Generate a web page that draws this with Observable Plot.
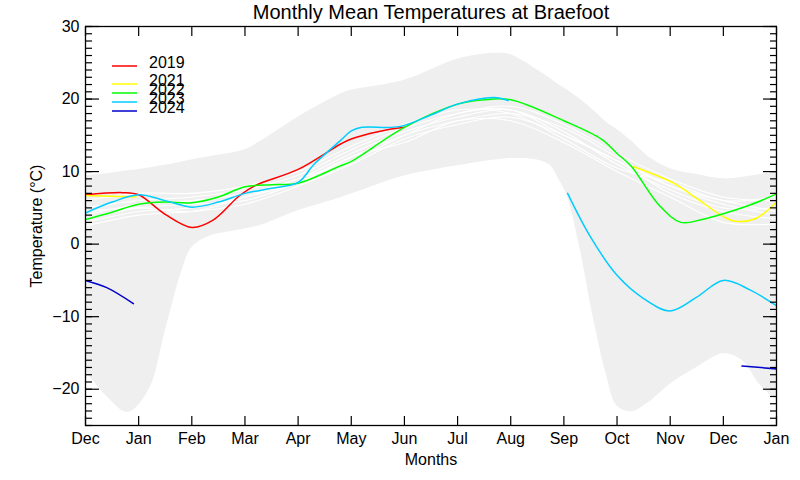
<!DOCTYPE html>
<html><head><meta charset="utf-8">
<script src="https://cdn.jsdelivr.net/npm/d3@7"></script>
<script src="https://cdn.jsdelivr.net/npm/@observablehq/plot@0.6"></script>
<style>
body{margin:0;background:#fff;}
#wrap{position:relative;width:800px;height:480px;font-family:"Liberation Sans",Arial,Helvetica,sans-serif;}
#wrap svg.legend{position:absolute;left:0;top:0;pointer-events:none;}
</style></head><body><div id="wrap"></div>
<script>
// ---------- data ----------
const title = "Monthly Mean Temperatures at Braefoot";
const xLabel = "Months";
const yLabel = "Temperature (°C)";
const monthLabels = ["Dec","Jan","Feb","Mar","Apr","May","Jun","Jul","Aug","Sep","Oct","Nov","Dec","Jan"];
const monthTicks = [0,1,2,3,4,5,6,7,8,9,10,11,12,13];
const yMajor = [-20,-10,0,10,20,30];

// grey envelope (min / max of record)
const bandX  = [0,0.4,0.8,1.2,1.5,1.8,2,2.3,3,3.3,4,4.8,5,6,7,7.7,8,8.5,8.75,8.9,9.07,9.3,9.55,9.8,10,10.27,10.6,11,11.5,12,12.35,12.7,13];
const bandHi = [9.4,9.7,10.1,10.5,10.9,11.3,11.6,12.0,13.0,14.2,17.5,20.7,21.2,22.6,25.5,26.3,26.1,24.0,22.8,22.0,21.2,20.0,18.5,16.8,15.8,14.2,12.0,10.4,9.6,9.0,9.2,9.6,9.9];
const bandLo = [-17.5,-21.0,-23.2,-20.0,-12.0,-4.0,-0.5,1.0,2.1,2.6,4.6,6.4,6.9,9.4,10.8,11.6,11.8,11.6,10.8,9.0,6.5,-0.5,-10.0,-18.0,-22.3,-23.1,-21.8,-19.3,-17.0,-15.1,-16.0,-19.5,-21.5];

// other years (white)
const wX = [0,1,2,3,4,5,6,7,8,9,10,11,12,13];
const wA = [3.0,4.5,5.0,6.5,8.5,12.0,15.0,17.0,18.0,16.0,12.0,8.0,6.0,4.5];
const wB = [4.0,5.5,6.0,7.0,9.0,12.5,15.5,17.5,18.5,15.5,11.0,7.5,5.0,5.0];
const wC = [5.0,6.0,6.5,7.5,9.5,13.0,16.0,18.0,19.0,16.5,12.5,9.0,6.5,6.0];
const wD = [2.5,4.0,4.5,5.5,8.0,11.0,14.5,16.5,17.5,15.0,11.5,7.0,4.5,3.5];
const wE = [6.0,7.0,7.0,8.0,10.0,13.5,16.5,18.5,18.0,14.5,10.5,8.5,6.0,6.5];
const wF = [3.5,5.0,5.5,6.0,8.5,12.0,14.0,17.0,17.0,14.0,10.0,6.5,3.0,2.8];
const wG = [4.5,5.0,4.5,6.5,9.0,11.5,15.0,18.0,18.5,15.0,11.5,8.0,5.5,4.0];

// highlighted years
const x2019 = [0,0.7,1,1.5,2,2.4,2.9,3.2,4,4.8,5,5.5,6];
const t2019 = [6.8,7.1,6.8,4.1,2.3,3.3,6.7,8.1,10.3,13.8,14.5,15.5,16.1];

const x2021a = [0,0.5,0.95];
const t2021a = [6.7,6.6,6.5];
const x2021b = [10.3,10.7,11.07,11.5,12,12.2,12.6,13];
const t2021b = [10.7,9.6,8.4,6.3,3.8,3.2,3.5,5.8];

const x2022 = [0,0.5,1,1.5,2,2.5,3,3.5,4,4.8,5,6,7,7.5,8,9,9.7,10,10.26,10.8,11.2,11.6,12,12.5,13];
const t2022 = [3.4,4.4,5.5,5.8,5.7,6.5,7.9,8.2,8.4,10.8,11.4,16.1,19.3,19.9,19.9,17.0,14.5,12.5,10.8,5.3,3.0,3.4,4.2,5.4,6.9];

const x2023a = [0,0.5,1,1.5,2,2.5,3,3.5,4,4.3,4.8,5,5.2,5.9,6.5,7,7.68,7.95];
const t2023a = [4.3,5.8,6.8,6.0,5.1,5.8,7.0,7.7,8.5,11.0,14.3,15.6,16.1,16.2,17.8,19.3,20.2,19.8];
const x2023b = [9.07,9.5,10,10.5,11,11.5,12,12.5,13];
const t2023b = [7.0,1.0,-4.3,-7.5,-9.2,-7.3,-5.0,-6.3,-8.5];

const x2024a = [0,0.4,0.9];
const t2024a = [-5.0,-6.0,-8.2];
const x2024b = [12.35,13];
const t2024b = [-16.8,-17.2];

const legendNames  = ["2019","2021","2022","2023","2024"];
const legendColors = ["#ff0000","#ffff00","#00ff00","#00ccff","#0000cc"];

// ---------- build ----------
const toRows = (xs, ys) => xs.map((x, i) => ({x, y: ys[i]}));
const bandRows = bandX.map((x, i) => ({x, lo: bandLo[i], hi: bandHi[i]}));
const whites = [wA, wB, wC, wD, wE, wF, wG];

const yearSegs = [
  [[x2019, t2019]],
  [[x2021a, t2021a], [x2021b, t2021b]],
  [[x2022, t2022]],
  [[x2023a, t2023a], [x2023b, t2023b]],
  [[x2024a, t2024a], [x2024b, t2024b]]
];

const lineMarks = [];
whites.forEach(w => lineMarks.push(Plot.line(toRows(wX, w), {x: "x", y: "y", stroke: "#ffffff", strokeWidth: 1.1, curve: "catmull-rom", clip: true})));
yearSegs.forEach((segs, k) => segs.forEach(([xs, ys]) =>
  lineMarks.push(Plot.line(toRows(xs, ys), {x: "x", y: "y", stroke: legendColors[k], strokeWidth: 1.5, curve: "catmull-rom", clip: true}))));

const minor = d3.range(-25, 31);
const chart = Plot.plot({
  width: 800, height: 480,
  marginLeft: 85, marginRight: 24, marginTop: 26, marginBottom: 55,
  x: {domain: [0, 13]},
  y: {domain: [-25, 30]},
  style: {fontFamily: '"Liberation Sans", Arial, Helvetica, sans-serif', fontSize: "16px", background: "white", color: "black", overflow: "visible"},
  marks: [
    Plot.areaY(bandRows, {x: "x", y1: "lo", y2: "hi", fill: "#efefef", curve: "catmull-rom", clip: true}),
    ...lineMarks,
    Plot.frame({stroke: "black", strokeWidth: 1.3}),
    Plot.axisY({anchor: "left", ticks: minor, tickSize: -7, text: null, label: null, strokeWidth: 1.2}),
    Plot.axisY({anchor: "left", ticks: yMajor, tickSize: -14, text: null, label: null, strokeWidth: 1.2}),
    Plot.axisY({anchor: "right", ticks: minor, tickSize: -7, text: null, label: null, strokeWidth: 1.2}),
    Plot.axisY({anchor: "right", ticks: yMajor, tickSize: -14, text: null, label: null, strokeWidth: 1.2}),
    Plot.axisY({anchor: "left", ticks: yMajor, tickSize: 0, tickPadding: 6, label: null, fontSize: 16}),
    Plot.axisX({anchor: "bottom", ticks: monthTicks, tickSize: -9, text: null, label: null, strokeWidth: 1.2}),
    Plot.axisX({anchor: "top", ticks: monthTicks, tickSize: -9, text: null, label: null, strokeWidth: 1.2}),
    Plot.axisX({anchor: "bottom", ticks: monthTicks, tickSize: 0, tickPadding: 7, label: null, fontSize: 16, tickFormat: i => monthLabels[i]}),
    Plot.text([title], {frameAnchor: "top", dy: -14, fontSize: 20, lineAnchor: "middle"}),
    Plot.text([xLabel], {frameAnchor: "bottom", dy: 34, fontSize: 16, lineAnchor: "middle"}),
    Plot.text([yLabel], {frameAnchor: "left", dx: -49, rotate: -90, fontSize: 16, textAnchor: "middle", lineAnchor: "middle"})
  ]
});
const wrap = document.getElementById("wrap");
wrap.appendChild(chart);

// legend overlay (IDL-style, uneven row spacing as in the original)
const legendRowY = [66, 84, 93, 102, 111];
const ns = "http://www.w3.org/2000/svg";
const lg = document.createElementNS(ns, "svg");
lg.setAttribute("class", "legend");
lg.setAttribute("width", 800); lg.setAttribute("height", 480);
legendNames.forEach((name, i) => {
  const y = legendRowY[i];
  const l = document.createElementNS(ns, "line");
  l.setAttribute("x1", 112); l.setAttribute("x2", 137);
  l.setAttribute("y1", y); l.setAttribute("y2", y);
  l.setAttribute("stroke", legendColors[i]); l.setAttribute("stroke-width", 1.5);
  lg.appendChild(l);
  const t = document.createElementNS(ns, "text");
  t.setAttribute("x", 149); t.setAttribute("y", y + 2);
  t.setAttribute("font-size", 16);
  t.setAttribute("font-family", '"Liberation Sans", Arial, sans-serif');
  t.textContent = name;
  lg.appendChild(t);
});
wrap.appendChild(lg);
</script></body></html>
